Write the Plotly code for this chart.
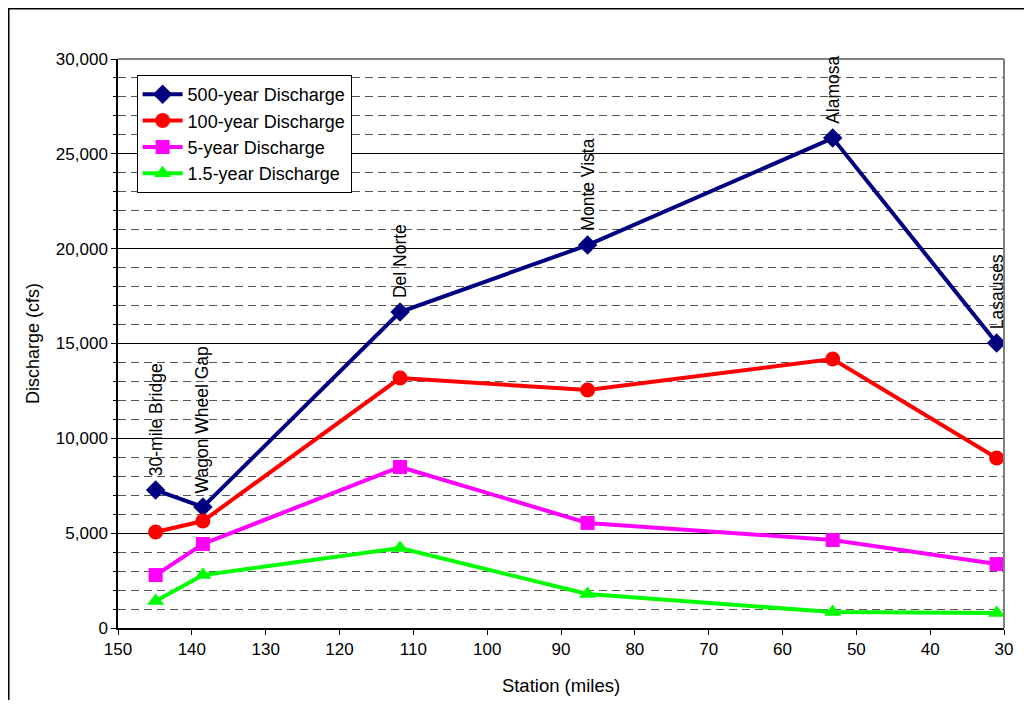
import plotly.graph_objects as go

stations = ["30-mile Bridge", "Wagon Wheel Gap", "Del Norte", "Monte Vista", "Alamosa", "Lasauses"]
miles = [144.9, 138.5, 111.8, 86.4, 53.2, 31.0]
q500 = [7275, 6380, 16660, 20190, 25830, 15025]
q100 = [5060, 5640, 13180, 12550, 14180, 8960]
q5 = [2790, 4430, 8490, 5540, 4640, 3370]
q15 = [1420, 2790, 4220, 1790, 840, 790]

series_names = ["500-year Discharge", "100-year Discharge", "5-year Discharge", "1.5-year Discharge"]
series_vals = [q500, q100, q5, q15]
colors = ["#000080", "#FF0000", "#FF00FF", "#00FF00"]
symbols = ["diamond", "circle", "square", "triangle-up"]
sizes = [15, 15, 14, 15]

FONT = "Liberation Sans, Arial, sans-serif"

fig = go.Figure()
for name, vals, c, s, sz in zip(series_names, series_vals, colors, symbols, sizes):
    fig.add_trace(go.Scatter(
        x=miles, y=vals, name=name, mode="lines+markers",
        line=dict(color=c, width=4),
        marker=dict(symbol=s, size=sz, color=c, line=dict(width=0)),
    ))

for st, m, v in zip(stations, miles, q500):
    fig.add_annotation(
        x=m, y=v, text=st, textangle=-90, showarrow=False,
        xanchor="center", yanchor="bottom", yshift=12,
        font=dict(family=FONT, size=17.5, color="black"),
    )

# page has an 8px body margin, so the figure is a bit smaller than the window
W, H = 1016, 692
L, R, T, B = 110, 20, 51, 72
pw, ph = W - L - R, H - T - B

def px(x):
    return (x - L) / pw

def py(y):
    return (H - B - y) / ph

shapes = [
    dict(type="line", xref="paper", yref="paper", x0=0, x1=1, y0=1, y1=1,
         line=dict(color="#808080", width=2)),
    dict(type="line", xref="paper", yref="paper", x0=1, x1=1, y0=0, y1=1,
         line=dict(color="#808080", width=2)),
    dict(type="rect", xref="paper", yref="paper", x0=px(0.75), x1=px(1040), y0=py(720), y1=py(0.75),
         line=dict(color="black", width=1.5), layer="above"),
]

fig.update_layout(
    width=W, height=H,
    margin=dict(l=L, r=R, t=T, b=B, autoexpand=False),
    paper_bgcolor="white", plot_bgcolor="white",
    font=dict(family=FONT, size=17, color="black"),
    showlegend=True,
    legend=dict(
        x=0.021, y=0.972, xanchor="left", yanchor="top",
        bordercolor="black", borderwidth=1, bgcolor="white",
        font=dict(family=FONT, size=18, color="black"),
        itemwidth=40, tracegroupgap=0,
    ),
    shapes=shapes,
    xaxis=dict(
        range=[150, 30], dtick=10, tick0=30, automargin=False,
        showgrid=False, zeroline=False,
        showline=True, linecolor="black", linewidth=1.5,
        ticks="outside", ticklen=5, tickcolor="black",
        tickfont=dict(family=FONT, size=17, color="black"),
        title=dict(text="Station (miles)", font=dict(family=FONT, size=18.5, color="black"), standoff=21),
    ),
    yaxis=dict(
        range=[0, 30000], dtick=5000, tickformat=",", automargin=False,
        showgrid=True, gridcolor="black", gridwidth=1,
        zeroline=False,
        showline=True, linecolor="black", linewidth=1.5,
        ticks="outside", ticklen=5, tickcolor="black",
        tickfont=dict(family=FONT, size=17, color="black"),
        minor=dict(dtick=1000, showgrid=True, gridcolor="#555555", gridwidth=1, griddash="8px,5px",
                   ticks="outside", ticklen=3, tickcolor="black"),
        title=dict(text="Discharge (cfs)", font=dict(family=FONT, size=18, color="black"), standoff=12),
    ),
)

fig.write_html("out.html")
